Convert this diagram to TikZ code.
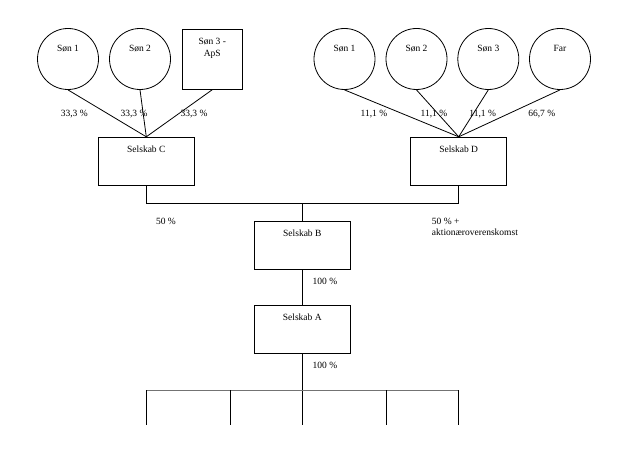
\documentclass[tikz,border=0pt]{standalone}
\usepackage{fontspec}
\setmainfont{Liberation Serif}
\begin{document}
\begin{tikzpicture}[x=1pt,y=-1pt,
  every node/.style={font=\fontsize{9.5}{11.5}\selectfont},
  ln/.style={line width=0.8pt},
  owner/.style={draw,circle,line width=0.8pt,minimum size=61pt,inner sep=0pt},
  ownsq/.style={draw,line width=0.8pt,minimum width=60pt,minimum height=60pt,inner sep=0pt},
  co/.style={draw,line width=0.8pt,minimum width=96pt,minimum height=48pt,inner sep=0pt},
  pct/.style={inner sep=0pt},
  circlab/.style={anchor=center,yshift=-20.5pt},
  toplab/.style={anchor=center,yshift=-12pt}]
\useasboundingbox (0,0) rectangle (618,457);
% owners of C
\node[owner,label={[circlab]north:Søn 1}] (cs1) at (68,59) {};
\node[owner,label={[circlab]north:Søn 2}] (cs2) at (140,59) {};
\node[ownsq,label={[anchor=north,align=center,yshift=-6pt]north:Søn 3 -\\ApS}] (cs3) at (212.3,59.3) {};
% owners of D
\node[owner,label={[circlab]north:Søn 1}] (ds1) at (344.5,59) {};
\node[owner,label={[circlab]north:Søn 2}] (ds2) at (416.5,59) {};
\node[owner,label={[circlab]north:Søn 3}] (ds3) at (488.3,59) {};
\node[owner,label={[circlab]north:Far}] (far) at (560,59) {};
% companies
\node[co,label={[toplab]north:Selskab C}] (C) at (146.3,161.2) {};
\node[co,label={[toplab]north:Selskab D}] (D) at (458.7,161.2) {};
\node[co,label={[toplab]north:Selskab B}] (B) at (302.3,245.5) {};
\node[co,label={[toplab]north:Selskab A}] (A) at (302.3,329.5) {};
% connectors
\draw[ln] (cs1.south) -- (C.north);
\draw[ln] (cs2.south) -- (C.north);
\draw[ln] (cs3.south) -- (C.north);
\draw[ln] (ds1.south) -- (D.north);
\draw[ln] (ds2.south) -- (D.north);
\draw[ln] (ds3.south) -- (D.north);
\draw[ln] (far.south) -- (D.north);
\coordinate (jB) at (302.3,203.3);
\draw[ln] (C.south) |- (jB) -| (D.south);
\draw[ln] (jB) -- (B.north);
\draw[ln] (B.south) -- (A.north);
\coordinate (bus) at (302.3,390);
\coordinate (b1) at (146.3,425);
\coordinate (b2) at (230.3,425);
\coordinate (b3) at (302.3,425);
\coordinate (b4) at (386.3,425);
\coordinate (b5) at (458.3,425);
\draw[ln] (A.south) -- (b3);
\draw[line width=1pt,black!55] (b1 |- bus) -- (b5 |- bus);
\foreach \b in {b1,b2,b4,b5} \draw[ln] (\b |- bus) -- (\b);
% percentages
\node[pct] (p1) at (74.3,114) {33,3 \%};
\node[pct] (p2) at (134,114) {33,3 \%};
\node[pct] (p3) at (194,114) {33,3 \%};
\node[pct] (p4) at (374,114) {11,1 \%};
\node[pct] (p5) at (434,114) {11,1 \%};
\node[pct] (p6) at (482.7,114) {11,1 \%};
\node[pct] (p7) at (541.7,114) {66,7 \%};
\node[pct] (p8) at (166,221.7) {50 \%};
\node[pct,anchor=north west,align=left] (p9) at (431.7,217.5) {50 \% +\\aktionæroverenskomst};
\node[pct] (p10) at (325,281) {100 \%};
\node[pct] (p11) at (325,365) {100 \%};
\end{tikzpicture}
\end{document}
